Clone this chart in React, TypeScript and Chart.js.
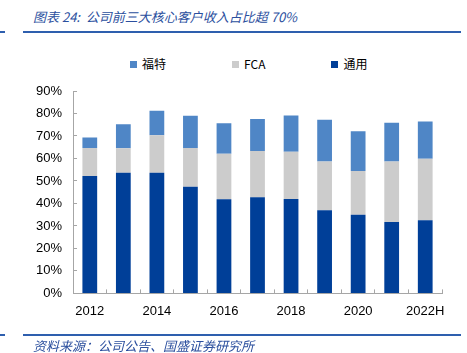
import React, { useEffect, useRef } from "react";
import { Chart, registerables } from "chart.js";

Chart.register(...registerables);

const categories = ["2012", "2013", "2014", "2015", "2016", "2017", "2018", "2019", "2020", "2021", "2022H"];
const gmValues = [52.2, 53.6, 53.6, 47.4, 41.9, 42.8, 42.0, 37.0, 35.0, 31.7, 32.5];
const fcaValues = [12.5, 10.9, 16.7, 17.3, 20.2, 20.5, 21.0, 21.7, 19.4, 27.0, 27.4];
const fordValues = [4.6, 10.7, 10.9, 14.3, 13.6, 14.2, 16.1, 18.5, 17.7, 17.2, 16.5];
const seriesNames = ["通用", "FCA", "福特"];
const seriesColors = ["#003F98", "#CCCCCC", "#4F86C6"];
const yTicks = [0, 10, 20, 30, 40, 50, 60, 70, 80, 90];

const titleText = "图表 24:  公司前三大核心客户收入占比超 70%";
const sourceText = "资料来源：公司公告、国盛证券研究所";

export default function App() {
  const ref = useRef<HTMLCanvasElement | null>(null);

  useEffect(() => {
    document.body.style.margin = "0";
    const canvas = ref.current;
    if (!canvas) return;
    const font = { family: "'Liberation Sans', Arial, sans-serif", size: 13 };
    const chart = new Chart(canvas, {
      type: "bar",
      data: {
        labels: categories,
        datasets: [gmValues, fcaValues, fordValues].map((d, i) => ({
          label: seriesNames[i],
          data: d,
          backgroundColor: seriesColors[i],
          borderWidth: 0,
          barPercentage: 0.44,
          categoryPercentage: 1,
        })),
      },
      options: {
        animation: false,
        responsive: false,
        devicePixelRatio: 1,
        layout: { padding: { left: 21, right: 25, top: 91, bottom: 20 } },
        plugins: { legend: { display: false }, tooltip: { enabled: false } },
        scales: {
          x: {
            stacked: true,
            grid: { drawOnChartArea: false, drawTicks: true, tickLength: -4, color: "#A6A6A6", offset: true },
            border: { color: "#A6A6A6" },
            ticks: {
              autoSkip: false,
              maxRotation: 0,
              padding: 14,
              color: "#000",
              font,
              callback: (_v: any, i: number) => (i % 2 === 0 ? categories[i] : ""),
            },
          },
          y: {
            stacked: true,
            min: yTicks[0],
            max: yTicks[yTicks.length - 1],
            grid: { drawOnChartArea: false, drawTicks: true, tickLength: -4, color: "#A6A6A6" },
            border: { color: "#A6A6A6" },
            afterBuildTicks: (s: any) => {
              s.ticks = yTicks.map((v) => ({ value: v }));
            },
            ticks: {
              padding: 15,
              color: "#000",
              font,
              callback: (v: any) => v + "%",
            },
          },
        },
      },
    });
    return () => chart.destroy();
  }, []);

  const legendOrder = [2, 1, 0];

  return (
    <div style={{ position: "relative", width: 467, height: 353, overflow: "hidden", background: "#fff" }}>
      <div
        style={{
          position: "absolute",
          left: 33,
          top: 8,
          fontFamily: "'Noto Sans CJK SC', sans-serif",
          fontStyle: "italic",
          fontSize: 13,
          lineHeight: "18px",
          color: "#2B4F9E",
          whiteSpace: "pre",
        }}
      >
        {titleText}
      </div>
      <div style={{ position: "absolute", left: 0, top: 31, width: 5, height: 2, background: "#2E5FAE" }} />
      <div style={{ position: "absolute", left: 23, top: 31, width: 438, height: 2, background: "#2E5FAE" }} />
      <div
        style={{
          position: "absolute",
          left: 130,
          top: 55,
          display: "flex",
          gap: 66,
          fontFamily: "'Noto Sans CJK SC', 'Liberation Sans', sans-serif",
          fontSize: 12,
          lineHeight: "18px",
          color: "#000",
        }}
      >
        {legendOrder.map((i) => (
          <div key={i} style={{ display: "flex", alignItems: "center" }}>
            <span style={{ display: "inline-block", width: 7, height: 7, background: seriesColors[i], marginRight: 5 }} />
            <span>{seriesNames[i]}</span>
          </div>
        ))}
      </div>
      <canvas ref={ref} width={467} height={353} style={{ position: "absolute", left: 0, top: 0 }} />
      <div style={{ position: "absolute", left: 0, top: 334, width: 5, height: 2, background: "#2E5FAE" }} />
      <div style={{ position: "absolute", left: 23, top: 334, width: 438, height: 2, background: "#2E5FAE" }} />
      <div
        style={{
          position: "absolute",
          left: 33,
          top: 337,
          fontFamily: "'Noto Sans CJK SC', sans-serif",
          fontStyle: "italic",
          fontSize: 13,
          lineHeight: "18px",
          color: "#2B4F9E",
          whiteSpace: "pre",
        }}
      >
        {sourceText}
      </div>
    </div>
  );
}
